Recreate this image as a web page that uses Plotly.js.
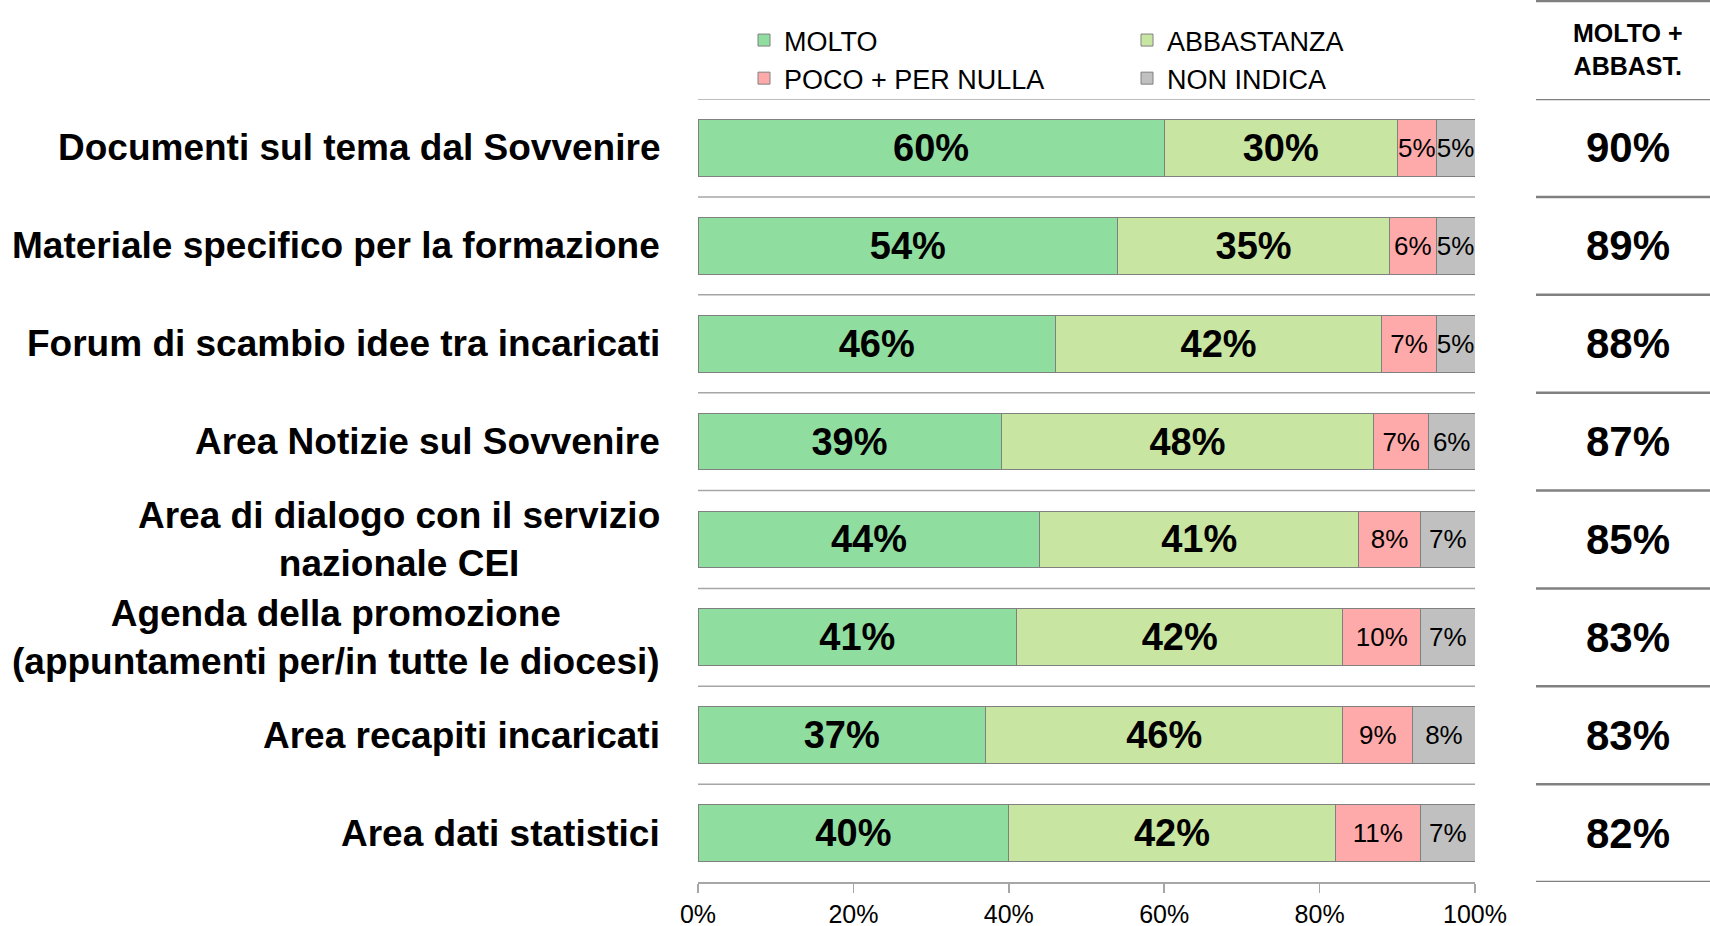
<!DOCTYPE html>
<html>
<head>
<meta charset="utf-8">
<script src="https://cdn.plot.ly/plotly-3.0.1.min.js"></script>
<style>html,body{margin:0;padding:0;background:#fff;}#chart{width:1710px;height:926px;}</style>
</head>
<body>
<div id="chart"></div>
<script>
const categories = [
  'Documenti sul tema dal Sovvenire',
  'Materiale specifico per la formazione',
  'Forum di scambio idee tra incaricati',
  'Area Notizie sul Sovvenire',
  'Area di dialogo con il servizio<br>nazionale CEI',
  'Agenda della promozione<br>(appuntamenti per/in tutte le diocesi)',
  'Area recapiti incaricati',
  'Area dati statistici'
];
const seriesNames = ['MOLTO', 'ABBASTANZA', 'POCO + PER NULLA', 'NON INDICA'];
const molto = [60, 54, 46, 39, 44, 41, 37, 40];
const abbastanza = [30, 35, 42, 48, 41, 42, 46, 42];
const poco = [5, 6, 7, 7, 8, 10, 9, 11];
const nonIndica = [5, 5, 5, 6, 7, 7, 8, 7];
const moltoAbbast = [90, 89, 88, 87, 85, 83, 83, 82];
const totalHeader = 'MOLTO +<br>ABBAST.';
const xTicks = [0, 20, 40, 60, 80, 100];

const colors = ['#90DDA0', '#C8E6A2', '#FFAAAA', '#C0C0C0'];
const FONT = 'Liberation Sans, Arial, sans-serif';

const W = 1710, H = 926;
const M = {l: 698, r: 235, t: 99, b: 44};
const plotW = W - M.l - M.r, plotH = H - M.t - M.b;
const pxX = p => (p - M.l) / plotW;
const pxY = p => (H - M.b - p) / plotH;

const values = [molto, abbastanza, poco, nonIndica];
const traces = values.map((vals, k) => ({
  type: 'bar',
  orientation: 'h',
  name: seriesNames[k],
  y: categories,
  x: vals,
  text: vals.map(v => v + '%'),
  textposition: 'inside',
  insidetextanchor: 'middle',
  constraintext: 'none',
  textangle: 0,
  textfont: k < 2
    ? {family: FONT, size: 38, color: '#000', weight: 'bold'}
    : {family: FONT, size: 26, color: '#000'},
  marker: {color: colors[k], line: {color: '#808080', width: 1}},
  hoverinfo: 'skip'
}));

const shapes = [];
for (let i = 0; i < categories.length; i++) {
  shapes.push({type: 'line', xref: 'x', yref: 'y', x0: 0, x1: 100, y0: i - 0.5, y1: i - 0.5,
    line: {color: '#A6A6A6', width: 1.5}, layer: 'below'});
}
for (let i = 0; i <= categories.length; i++) {
  shapes.push({type: 'line', xref: 'paper', yref: 'y', x0: pxX(1536), x1: pxX(1712), y0: i - 0.5, y1: i - 0.5,
    line: {color: '#808080', width: 2.5}});
}
shapes.push({type: 'line', xref: 'paper', yref: 'paper', x0: pxX(1536), x1: pxX(1712), y0: pxY(1), y1: pxY(1),
  line: {color: '#808080', width: 2.5}});

const annotations = [];
categories.forEach((c, i) => {
  annotations.push({xref: 'paper', yref: 'y', x: 0, xshift: -36, y: i, text: c,
    xanchor: 'right', yanchor: 'middle', align: 'center', showarrow: false,
    font: {family: FONT, size: 37, color: '#000', weight: 'bold'}});
  annotations.push({xref: 'paper', yref: 'y', x: pxX(1628), y: i, text: moltoAbbast[i] + '%',
    xanchor: 'center', yanchor: 'middle', showarrow: false,
    font: {family: FONT, size: 42, color: '#000', weight: 'bold'}});
});
annotations.push({xref: 'paper', yref: 'paper', x: pxX(1628), y: pxY(50), text: totalHeader,
  xanchor: 'center', yanchor: 'middle', align: 'center', showarrow: false,
  font: {family: FONT, size: 25, color: '#000', weight: 'bold'}});

const layout = {
  width: W, height: H,
  margin: M,
  paper_bgcolor: '#fff', plot_bgcolor: '#fff',
  barmode: 'stack',
  bargap: 0.42,
  showlegend: true,
  legend: {
    orientation: 'h', x: pxX(744), xanchor: 'left', y: pxY(16), yanchor: 'top',
    font: {family: FONT, size: 27, color: '#000'},
    entrywidth: 338, entrywidthmode: 'pixels', traceorder: 'normal',
    bgcolor: 'rgba(0,0,0,0)'
  },
  xaxis: {
    range: [0, 100], autorange: false, fixedrange: true,
    tickvals: xTicks, ticktext: xTicks.map(v => v + '%'),
    showgrid: false, zeroline: false,
    showline: true, linecolor: '#A6A6A6', linewidth: 1.5,
    ticks: 'outside', ticklen: 9, tickcolor: '#A6A6A6', tickwidth: 1.5,
    tickfont: {family: FONT, size: 25, color: '#000'},
    ticklabelstandoff: 0
  },
  yaxis: {
    type: 'category', categoryorder: 'array', categoryarray: categories,
    range: [categories.length - 0.5, -0.5], autorange: false, fixedrange: true,
    showticklabels: false, showgrid: false, zeroline: false, showline: false, ticks: ''
  },
  shapes: shapes,
  annotations: annotations
};

Plotly.newPlot('chart', traces, layout, {displayModeBar: false, staticPlot: true});
</script>
</body>
</html>
